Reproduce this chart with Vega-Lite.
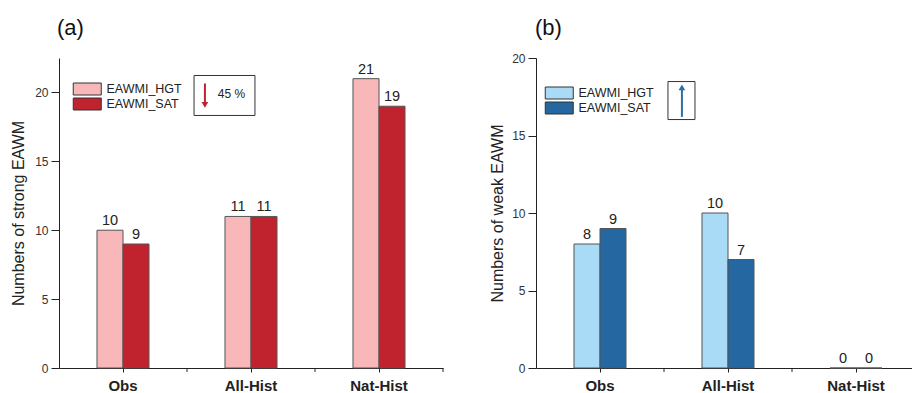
{
  "$schema": "https://vega.github.io/schema/vega-lite/v6.json",
  "padding": {"left": 10, "top": 17, "right": 0, "bottom": 0},
  "config": {
    "view": {"stroke": null},
    "font": "Liberation Sans",
    "axis": {"domainColor": "#222", "tickColor": "#222", "labelColor": "#333", "titleColor": "#222", "labelFont": "Liberation Sans", "titleFont": "Liberation Sans", "grid": false}
  },
  "datasets": {
    "strong": [
      {"group": "Obs", "series": "EAWMI_HGT", "count": 10},
      {"group": "Obs", "series": "EAWMI_SAT", "count": 9},
      {"group": "All-Hist", "series": "EAWMI_HGT", "count": 11},
      {"group": "All-Hist", "series": "EAWMI_SAT", "count": 11},
      {"group": "Nat-Hist", "series": "EAWMI_HGT", "count": 21},
      {"group": "Nat-Hist", "series": "EAWMI_SAT", "count": 19}
    ],
    "weak": [
      {"group": "Obs", "series": "EAWMI_HGT", "count": 8},
      {"group": "Obs", "series": "EAWMI_SAT", "count": 9},
      {"group": "All-Hist", "series": "EAWMI_HGT", "count": 10},
      {"group": "All-Hist", "series": "EAWMI_SAT", "count": 7},
      {"group": "Nat-Hist", "series": "EAWMI_HGT", "count": 0},
      {"group": "Nat-Hist", "series": "EAWMI_SAT", "count": 0}
    ],
    "noteA": [{"x1": 1.055, "x2": 1.531, "y1": 18.33, "y2": 21.23, "ax": 1.14, "atail": 20.65, "ahead": 19.25, "tip": 19.1, "tx": 1.348, "ty": 19.86, "label": "45 %"}],
    "noteB": [{"x1": 1.031, "x2": 1.242, "y1": 16.03, "y2": 18.48, "ax": 1.14, "atail": 16.2, "ahead": 17.95, "tip": 18.1}],
    "bandEdgesA": [{"t": 1}, {"t": 2}, {"t": 3}],
    "bandEdgesB": [{"t": 1}, {"t": 2}, {"t": 3}]
  },
  "spacing": 45,
  "resolve": {"scale": {"color": "independent"}},
  "hconcat": [
    {
      "width": 384,
      "height": 310,
      "title": {"text": "(a)", "anchor": "start", "frame": "group", "fontSize": 22, "fontWeight": "normal", "offset": 18, "dx": -2, "color": "#111"},
      "layer": [
        {
          "data": {"name": "strong"},
          "layer": [
            {
              "mark": {"type": "bar", "stroke": "#555", "strokeWidth": 1},
              "encoding": {
                "x": {"field": "group", "type": "nominal", "sort": ["Obs", "All-Hist", "Nat-Hist"], "scale": {"paddingInner": 0, "paddingOuter": 0},
                  "axis": {"title": null, "labelAngle": 0, "labelFontSize": 15, "labelFontWeight": "bold", "labelColor": "#222", "tickSize": 4, "labelPadding": 6}},
                "xOffset": {"field": "series", "type": "nominal", "scale": {"domain": ["_l", "EAWMI_HGT", "EAWMI_SAT", "_r"], "paddingInner": 0, "paddingOuter": 0.4615}},
                "y": {"field": "count", "type": "quantitative", "scale": {"domain": [0, 22.5], "nice": false},
                  "axis": {"title": "Numbers of strong EAWM", "values": [0, 2.5, 5, 7.5, 10, 12.5, 15, 17.5, 20], "labelExpr": "datum.value % 5 === 0 ? datum.label : ''",
                    "tickSize": {"condition": {"test": "datum.value % 5 !== 0", "value": 4}, "value": 8}, "labelFontSize": 12, "titleFontSize": 16, "titleFontWeight": "normal", "titlePadding": 8, "labelPadding": 3}},
                "color": {"field": "series", "type": "nominal", "scale": {"domain": ["EAWMI_HGT", "EAWMI_SAT"], "range": ["#f8b7b9", "#c1232e"]},
                  "legend": {"title": null, "orient": "none", "legendX": 13, "legendY": 24, "padding": 0, "symbolType": "M-1,-1.2H4.6V1.2H-1Z", "symbolSize": 100, "symbolStrokeColor": "#333", "symbolStrokeWidth": 1, "symbolOpacity": 1, "labelFontSize": 12.5, "labelColor": "#222", "labelOffset": 22, "rowPadding": 1, "clipHeight": 14}}
              }
            },
            {
              "mark": {"type": "text", "baseline": "bottom", "dy": -2, "fontSize": 14.5, "color": "#222"},
              "encoding": {
                "x": {"field": "group", "type": "nominal", "sort": ["Obs", "All-Hist", "Nat-Hist"]},
                "xOffset": {"field": "series", "type": "nominal"},
                "y": {"field": "count", "type": "quantitative"},
                "text": {"field": "count", "type": "quantitative"}
              }
            }
          ]
        },
        {
          "layer": [
            {
              "data": {"name": "noteA"},
              "mark": {"type": "rect", "fill": null, "stroke": "#333", "strokeWidth": 1},
              "encoding": {
                "x": {"field": "x1", "type": "quantitative", "scale": {"domain": [0, 3], "nice": false, "zero": false}, "axis": null},
                "x2": {"field": "x2"},
                "y": {"field": "y1", "type": "quantitative", "title": "Numbers of strong EAWM"},
                "y2": {"field": "y2"}
              }
            },
            {
              "data": {"name": "noteA"},
              "mark": {"type": "rule", "color": "#c1232e", "strokeWidth": 2},
              "encoding": {
                "x": {"field": "ax", "type": "quantitative", "axis": null},
                "y": {"field": "atail", "type": "quantitative", "title": "Numbers of strong EAWM"},
                "y2": {"field": "ahead"}
              }
            },
            {
              "data": {"name": "noteA"},
              "mark": {"type": "point", "shape": "triangle-down", "filled": true, "color": "#c1232e", "size": 45, "opacity": 1},
              "encoding": {
                "x": {"field": "ax", "type": "quantitative", "axis": null},
                "y": {"field": "tip", "type": "quantitative", "title": "Numbers of strong EAWM"}
              }
            },
            {
              "data": {"name": "noteA"},
              "mark": {"type": "text", "fontSize": 12, "color": "#222", "baseline": "middle", "align": "center"},
              "encoding": {
                "x": {"field": "tx", "type": "quantitative", "axis": null},
                "y": {"field": "ty", "type": "quantitative", "title": "Numbers of strong EAWM"},
                "text": {"field": "label"}
              }
            },
            {
              "data": {"name": "bandEdgesA"},
              "mark": {"type": "rule", "color": "#222", "strokeWidth": 1},
              "encoding": {
                "x": {"field": "t", "type": "quantitative", "axis": null},
                "y": {"datum": 0, "type": "quantitative", "title": "Numbers of strong EAWM"},
                "y2": {"datum": -0.29}
              }
            }
          ]
        }
      ],
      "resolve": {"scale": {"x": "independent"}}
    },
    {
      "width": 384,
      "height": 310,
      "title": {"text": "(b)", "anchor": "start", "frame": "group", "fontSize": 22, "fontWeight": "normal", "offset": 12, "dx": -1, "color": "#111"},
      "layer": [
        {
          "data": {"name": "weak"},
          "layer": [
            {
              "mark": {"type": "bar", "stroke": "#555", "strokeWidth": 1},
              "encoding": {
                "x": {"field": "group", "type": "nominal", "sort": ["Obs", "All-Hist", "Nat-Hist"], "scale": {"paddingInner": 0, "paddingOuter": 0},
                  "axis": {"title": null, "labelAngle": 0, "labelFontSize": 15, "labelFontWeight": "bold", "labelColor": "#222", "tickSize": 4, "labelPadding": 6}},
                "xOffset": {"field": "series", "type": "nominal", "scale": {"domain": ["_l", "EAWMI_HGT", "EAWMI_SAT", "_r"], "paddingInner": 0, "paddingOuter": 0.4615}},
                "y": {"field": "count", "type": "quantitative", "scale": {"domain": [0, 20], "nice": false},
                  "axis": {"title": "Numbers of weak EAWM", "values": [0, 2.5, 5, 7.5, 10, 12.5, 15, 17.5, 20], "labelExpr": "datum.value % 5 === 0 ? datum.label : ''",
                    "tickSize": {"condition": {"test": "datum.value % 5 !== 0", "value": 4}, "value": 8}, "labelFontSize": 12, "titleFontSize": 16, "titleFontWeight": "normal", "titlePadding": 6, "labelPadding": 3}},
                "color": {"field": "series", "type": "nominal", "scale": {"domain": ["EAWMI_HGT", "EAWMI_SAT"], "range": ["#a9dbf6", "#2467a1"]},
                  "legend": {"title": null, "orient": "none", "legendX": 8, "legendY": 28, "padding": 0, "symbolType": "M-1,-1.2H4.6V1.2H-1Z", "symbolSize": 100, "symbolStrokeColor": "#333", "symbolStrokeWidth": 1, "symbolOpacity": 1, "labelFontSize": 12.5, "labelColor": "#222", "labelOffset": 22, "rowPadding": 1, "clipHeight": 14}}
              }
            },
            {
              "mark": {"type": "text", "baseline": "bottom", "dy": -2, "fontSize": 14.5, "color": "#222"},
              "encoding": {
                "x": {"field": "group", "type": "nominal", "sort": ["Obs", "All-Hist", "Nat-Hist"]},
                "xOffset": {"field": "series", "type": "nominal"},
                "y": {"field": "count", "type": "quantitative"},
                "text": {"field": "count", "type": "quantitative"}
              }
            }
          ]
        },
        {
          "layer": [
            {
              "data": {"name": "noteB"},
              "mark": {"type": "rect", "fill": null, "stroke": "#333", "strokeWidth": 1},
              "encoding": {
                "x": {"field": "x1", "type": "quantitative", "scale": {"domain": [0, 3], "nice": false, "zero": false}, "axis": null},
                "x2": {"field": "x2"},
                "y": {"field": "y1", "type": "quantitative", "title": "Numbers of weak EAWM"},
                "y2": {"field": "y2"}
              }
            },
            {
              "data": {"name": "noteB"},
              "mark": {"type": "rule", "color": "#2a6fa5", "strokeWidth": 2},
              "encoding": {
                "x": {"field": "ax", "type": "quantitative", "axis": null},
                "y": {"field": "atail", "type": "quantitative", "title": "Numbers of weak EAWM"},
                "y2": {"field": "ahead"}
              }
            },
            {
              "data": {"name": "noteB"},
              "mark": {"type": "point", "shape": "triangle-up", "filled": true, "color": "#2a6fa5", "size": 45, "opacity": 1},
              "encoding": {
                "x": {"field": "ax", "type": "quantitative", "axis": null},
                "y": {"field": "tip", "type": "quantitative", "title": "Numbers of weak EAWM"}
              }
            },
            {
              "data": {"name": "bandEdgesB"},
              "mark": {"type": "rule", "color": "#222", "strokeWidth": 1},
              "encoding": {
                "x": {"field": "t", "type": "quantitative", "axis": null},
                "y": {"datum": 0, "type": "quantitative", "title": "Numbers of weak EAWM"},
                "y2": {"datum": -0.26}
              }
            }
          ]
        }
      ],
      "resolve": {"scale": {"x": "independent"}}
    }
  ]
}
